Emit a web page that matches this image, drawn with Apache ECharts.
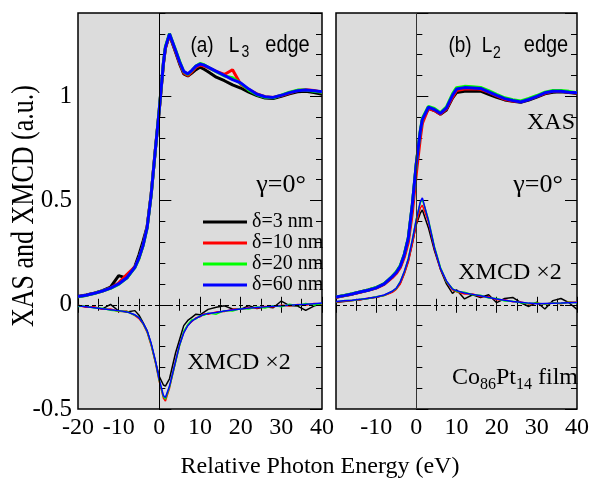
<!DOCTYPE html>
<html>
<head>
<meta charset="utf-8">
<script src="https://cdn.jsdelivr.net/npm/echarts@6/dist/echarts.min.js"></script>
<style>
  html, body { margin: 0; padding: 0; background: #fff; }
  #chart { width: 592px; height: 480px; }
</style>
</head>
<body>
<div id="chart"></div>
<script>
// energy grids (eV)
const l3Energy = [-20,-18,-16,-14,-12,-10,-8,-6,-5,-4,-3,-2,-1,0,1,1.5,2.5,4,5,6,7,8,9,10,11,12,14,16,18,20,22,24,26,28,30,32,34,36,38,40]
const l2Energy = [-20,-18,-16,-14,-12,-10,-8,-6,-5,-4,-3,-2,-1,0,1,1.5,3,4.5,6,7.5,9,10,12,14,16,18,20,22,24,26,28,30,32,34,36,38,40]

// (a) L3 edge, XAS
const l3Xas3  = [0.040,0.047,0.056,0.068,0.085,0.140,0.128,0.185,0.240,0.305,0.375,0.530,0.738,0.936,1.155,1.232,1.295,1.212,1.155,1.108,1.098,1.112,1.128,1.140,1.130,1.118,1.092,1.075,1.055,1.040,1.020,1.004,0.992,0.990,1.000,1.012,1.022,1.025,1.018,1.010]
const l3Xas10 = [0.039,0.046,0.055,0.066,0.081,0.105,0.145,0.182,0.224,0.286,0.372,0.532,0.742,0.938,1.158,1.232,1.296,1.215,1.160,1.112,1.100,1.118,1.140,1.150,1.145,1.138,1.120,1.105,1.128,1.058,1.032,1.012,0.998,0.995,1.004,1.016,1.028,1.032,1.028,1.020]
const l3Xas20 = [0.038,0.045,0.054,0.066,0.079,0.098,0.128,0.178,0.222,0.283,0.368,0.528,0.738,0.942,1.162,1.240,1.302,1.222,1.168,1.118,1.105,1.124,1.146,1.158,1.152,1.140,1.118,1.098,1.090,1.062,1.030,1.008,0.996,0.993,1.006,1.020,1.030,1.030,1.025,1.020]
const l3Xas60 = [0.040,0.046,0.055,0.066,0.080,0.100,0.130,0.180,0.225,0.285,0.370,0.530,0.740,0.940,1.160,1.235,1.300,1.220,1.165,1.120,1.108,1.125,1.145,1.155,1.150,1.140,1.120,1.100,1.080,1.065,1.035,1.010,0.998,0.995,1.005,1.018,1.027,1.030,1.027,1.022]

// (a) L3 edge, XMCD x2
const l3Mcd3  = [-0.002,-0.010,-0.012,-0.020,0.002,-0.030,-0.035,-0.028,-0.050,-0.085,-0.125,-0.190,-0.270,-0.345,-0.385,-0.390,-0.355,-0.230,-0.165,-0.100,-0.075,-0.060,-0.045,-0.048,-0.035,-0.022,-0.012,-0.005,-0.020,-0.022,-0.004,-0.018,-0.010,-0.014,0.018,-0.004,-0.006,-0.027,-0.006,0.006]
const l3Mcd10 = [-0.003,-0.012,-0.010,-0.022,-0.020,-0.032,-0.030,-0.052,-0.066,-0.092,-0.132,-0.195,-0.275,-0.370,-0.448,-0.462,-0.400,-0.272,-0.192,-0.132,-0.098,-0.080,-0.062,-0.058,-0.044,-0.045,-0.034,-0.032,-0.022,-0.022,-0.014,-0.016,-0.008,-0.010,-0.002,-0.006,0.002,-0.002,0.006,0.004]
const l3Mcd20 = [-0.008,-0.006,-0.016,-0.017,-0.026,-0.030,-0.032,-0.050,-0.060,-0.090,-0.128,-0.190,-0.270,-0.365,-0.440,-0.452,-0.395,-0.275,-0.195,-0.128,-0.095,-0.072,-0.068,-0.052,-0.050,-0.040,-0.045,-0.028,-0.030,-0.018,-0.020,-0.010,-0.015,-0.004,-0.010,0.003,-0.004,0.006,-0.002,0.006]
const l3Mcd60 = [-0.005,-0.009,-0.014,-0.019,-0.024,-0.028,-0.034,-0.048,-0.062,-0.088,-0.125,-0.185,-0.265,-0.360,-0.435,-0.445,-0.390,-0.270,-0.190,-0.135,-0.100,-0.078,-0.065,-0.055,-0.046,-0.042,-0.037,-0.030,-0.025,-0.020,-0.016,-0.013,-0.010,-0.007,-0.005,-0.002,0.000,0.002,0.005,0.008]

// (b) L2 edge, XAS
const l2Xas3  = [0.036,0.044,0.052,0.061,0.071,0.082,0.100,0.134,0.155,0.184,0.238,0.318,0.476,0.676,0.830,0.885,0.942,0.932,0.914,0.935,0.992,1.018,1.025,1.026,1.025,1.010,0.995,0.983,0.976,0.972,0.982,0.996,1.012,1.020,1.022,1.018,1.014]
const l2Xas10 = [0.036,0.043,0.051,0.060,0.069,0.080,0.098,0.130,0.150,0.178,0.228,0.300,0.440,0.630,0.800,0.870,0.942,0.932,0.915,0.940,0.995,1.028,1.035,1.036,1.034,1.020,1.002,0.986,0.978,0.974,0.986,1.000,1.015,1.024,1.024,1.020,1.016]
const l2Xas20 = [0.038,0.045,0.053,0.062,0.071,0.083,0.102,0.137,0.158,0.188,0.243,0.322,0.482,0.680,0.838,0.895,0.952,0.942,0.922,0.950,1.012,1.042,1.048,1.046,1.043,1.028,1.010,0.993,0.984,0.978,0.990,1.004,1.020,1.028,1.028,1.024,1.018]
const l2Xas60 = [0.037,0.044,0.052,0.061,0.070,0.081,0.100,0.135,0.155,0.185,0.240,0.320,0.480,0.680,0.835,0.890,0.948,0.937,0.918,0.945,1.005,1.035,1.042,1.040,1.038,1.022,1.005,0.989,0.980,0.973,0.985,1.000,1.017,1.025,1.025,1.020,1.017]

// (b) L2 edge, XMCD x2
const l2Mcd3  = [0.012,0.016,0.020,0.024,0.030,0.036,0.046,0.062,0.076,0.104,0.150,0.210,0.295,0.385,0.440,0.455,0.370,0.260,0.170,0.100,0.055,0.072,0.028,0.048,0.035,0.048,0.010,0.030,0.035,0.010,-0.008,0.012,-0.020,0.020,0.030,0.010,-0.022]
const l2Mcd10 = [0.013,0.017,0.020,0.024,0.032,0.036,0.044,0.060,0.074,0.100,0.148,0.205,0.290,0.390,0.465,0.478,0.398,0.270,0.172,0.110,0.072,0.062,0.052,0.052,0.040,0.038,0.024,0.024,0.014,0.014,0.004,0.008,0.003,0.010,0.005,0.013,0.012]
const l2Mcd20 = [0.014,0.020,0.021,0.027,0.030,0.039,0.045,0.066,0.078,0.112,0.158,0.222,0.312,0.412,0.490,0.505,0.410,0.280,0.180,0.112,0.078,0.064,0.060,0.048,0.046,0.032,0.030,0.018,0.017,0.010,0.006,0.008,0.004,0.009,0.006,0.012,0.010]
const l2Mcd60 = [0.016,0.019,0.022,0.026,0.031,0.037,0.047,0.065,0.080,0.110,0.160,0.220,0.310,0.410,0.495,0.513,0.405,0.275,0.175,0.115,0.075,0.068,0.057,0.050,0.043,0.035,0.028,0.022,0.016,0.012,0.008,0.005,0.006,0.007,0.008,0.010,0.011]

const names = ['δ=3 nm', 'δ=10 nm', 'δ=20 nm', 'δ=60 nm']
const colors = ['#000000', '#ff0000', '#00ff00', '#0000ff']

const serif = 'Liberation Serif'
const sans = 'Liberation Sans'

const makeSeries = (xs, ys, i, xAxisIndex, yAxisIndex, width) => ({
  name: names[i],
  type: 'line',
  xAxisIndex,
  yAxisIndex,
  data: xs.map((x, k) => [x, ys[k]]),
  symbol: 'none',
  lineStyle: { color: colors[i], width },
  itemStyle: { color: colors[i] },
  z: 3
})

const refLines = (xAxisIndex, yAxisIndex, vColor) => ({
  type: 'line',
  xAxisIndex,
  yAxisIndex,
  data: [],
  silent: true,
  z: 2,
  markLine: {
    silent: true,
    symbol: 'none',
    animation: false,
    label: { show: false },
    data: [
      { xAxis: 0, lineStyle: { color: vColor, width: 1, type: 'solid' } },
      { yAxis: 0, lineStyle: { color: '#000', width: 1, type: [4, 3] } }
    ]
  }
})

const xAxisOf = (gridIndex, position, showLabel, showMin) => ({
  type: 'value', gridIndex, position,
  min: -20, max: 40, interval: 10,
  axisLine: { show: false },
  splitLine: { show: false },
  axisTick: { inside: true, length: 8, lineStyle: { color: '#000', width: 1 } },
  minorTick: { show: true, splitNumber: 2, length: 6, lineStyle: { color: '#000', width: 1 } },
  axisLabel: { show: showLabel, showMinLabel: showMin, margin: 7, color: '#000', fontFamily: serif, fontSize: 24 }
})

const yMajorOf = (gridIndex, position, showLabel) => ({
  type: 'value', gridIndex, position,
  min: -0.5, max: 1.4, interval: 0.5,
  axisLine: { show: false },
  splitLine: { show: false },
  axisTick: { inside: true, length: 12, lineStyle: { color: '#000', width: 1 } },
  axisLabel: { show: showLabel, showMaxLabel: false, margin: 6, color: '#000', fontFamily: serif, fontSize: 25 }
})

const yMinorOf = (gridIndex, position) => ({
  type: 'value', gridIndex, position,
  min: -0.5, max: 1.4, interval: 0.1,
  axisLine: { show: false },
  splitLine: { show: false },
  axisTick: { inside: true, length: 6, lineStyle: { color: '#000', width: 1 } },
  axisLabel: { show: false }
})

const txt = (text, x, y, size, family, stretch) => ({
  type: 'text', x, y, z: 10,
  scaleY: stretch || 1,
  style: {
    text, fill: '#000', fontSize: size, fontFamily: family,
    align: 'center', verticalAlign: 'middle',
    textAlign: 'center', textVerticalAlign: 'middle'
  }
})

const series = []
;[l3Xas3, l3Xas10, l3Xas20, l3Xas60].forEach((ys, i) => series.push(makeSeries(l3Energy, ys, i, 0, 0, 3)))
;[l3Mcd3, l3Mcd10, l3Mcd20, l3Mcd60].forEach((ys, i) => series.push(makeSeries(l3Energy, ys, i, 0, 0, 1.5)))
;[l2Xas3, l2Xas10, l2Xas20, l2Xas60].forEach((ys, i) => series.push(makeSeries(l2Energy, ys, i, 2, 4, 3)))
;[l2Mcd3, l2Mcd10, l2Mcd20, l2Mcd60].forEach((ys, i) => series.push(makeSeries(l2Energy, ys, i, 2, 4, 1.5)))
series.push(refLines(0, 0, '#000'))
series.push(refLines(2, 4, '#333'))

const chart = echarts.init(document.getElementById('chart'))
chart.setOption({
  animation: false,
  backgroundColor: '#fff',
  grid: [
    { left: 78, top: 13, width: 244, height: 396, show: true, backgroundColor: '#dcdcdc', borderColor: '#000', borderWidth: 1.5 },
    { left: 336, top: 13, width: 244, height: 396, show: true, backgroundColor: '#dcdcdc', borderColor: '#000', borderWidth: 1.5 }
  ],
  xAxis: [
    xAxisOf(0, 'bottom', true, true),
    xAxisOf(0, 'top', false, true),
    xAxisOf(1, 'bottom', true, false),
    xAxisOf(1, 'top', false, true)
  ],
  yAxis: [
    yMajorOf(0, 'left', true),
    yMinorOf(0, 'left'),
    yMajorOf(0, 'right', false),
    yMinorOf(0, 'right'),
    yMajorOf(1, 'left', false),
    yMinorOf(1, 'left'),
    yMajorOf(1, 'right', false),
    yMinorOf(1, 'right')
  ],
  legend: {
    data: names,
    orient: 'vertical',
    left: 198,
    top: 207,
    icon: 'rect',
    itemWidth: 44,
    itemHeight: 3,
    itemGap: 1,
    selectedMode: false,
    textStyle: { color: '#000', fontFamily: serif, fontSize: 20, lineHeight: 20 }
  },
  graphic: [
    txt('(a)', 202, 46, 19, sans, 1.15),
    txt('L', 234, 46, 19, sans, 1.15),
    txt('3', 245.5, 53, 14, sans, 1.15),
    txt('edge', 287.5, 46, 20, sans, 1.15),
    txt('(b)', 460, 46, 19, sans, 1.15),
    txt('L', 487, 46, 19, sans, 1.15),
    txt('2', 497, 54, 14, sans, 1.15),
    txt('edge', 546, 46, 20, sans, 1.15),
    txt('γ=0°', 281, 185, 26, serif),
    txt('γ=0°', 538, 185, 26, serif),
    txt('XAS', 551, 123, 24, serif),
    txt('XMCD ×2', 239, 363, 24, serif),
    txt('XMCD ×2', 510, 273, 24, serif),
    {
      type: 'text', x: 578, y: 378, z: 10,
      style: {
        text: 'Co{s|86}Pt{s|14} film',
        fill: '#000', fontSize: 24, fontFamily: serif, lineHeight: 30,
        align: 'right', verticalAlign: 'middle', textAlign: 'right', textVerticalAlign: 'middle',
        rich: { s: { fontSize: 16, fontFamily: serif, lineHeight: 16, verticalAlign: 'bottom', fill: '#000' } }
      }
    },
    txt('Relative Photon Energy (eV)', 320, 467, 24, serif),
    Object.assign(txt('XAS and XMCD (a.u.)', 25, 206, 26, serif, 1.2), { rotation: Math.PI / 2 })
  ],
  series
})
</script>
</body>
</html>
